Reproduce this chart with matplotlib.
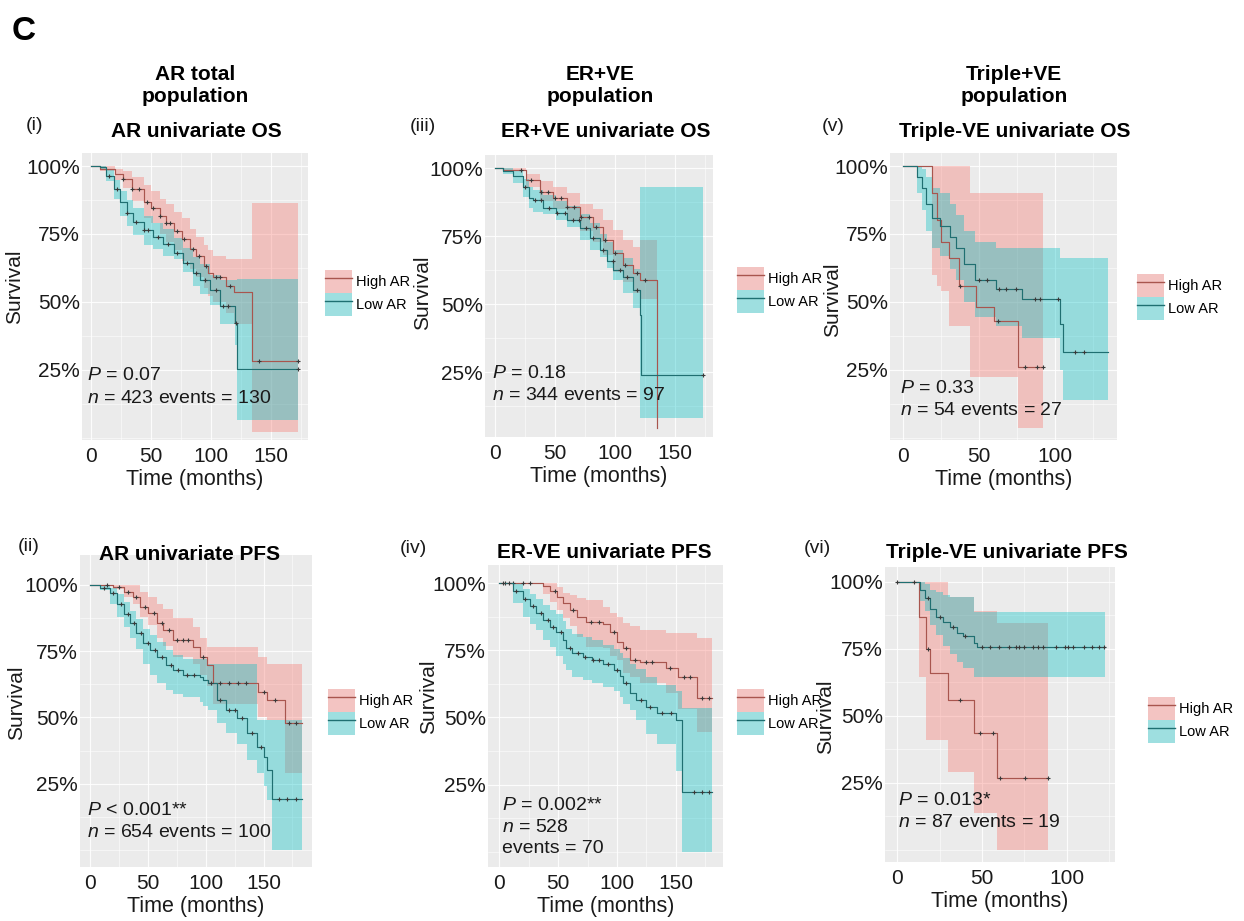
import numpy as np
import matplotlib
matplotlib.use('Agg')
import matplotlib.pyplot as plt
from matplotlib.patches import Patch
from matplotlib.lines import Line2D
from matplotlib.ticker import MultipleLocator

plt.rcParams['font.family'] = ['Liberation Sans', 'DejaVu Sans']
plt.rcParams['mathtext.fontset'] = 'custom'
plt.rcParams['mathtext.it'] = 'Liberation Sans:italic'
plt.rcParams['mathtext.rm'] = 'Liberation Sans'

W, H = 1244, 921

# ---------------- data ----------------
# (i) AR univariate OS
ar_os_high_t = [0, 8, 20, 27, 34, 44, 50, 58, 63, 69, 76, 83, 88, 94, 98, 102, 113, 119, 134.6, 173]
ar_os_high_s = [1.0, 0.99, 0.97, 0.952, 0.915, 0.866, 0.847, 0.816, 0.791, 0.761, 0.73, 0.694, 0.669, 0.632, 0.608, 0.59, 0.559, 0.535, 0.283, 0.283]
ar_os_high_hi = [1.0, 1.0, 0.99, 0.98, 0.96, 0.93, 0.91, 0.88, 0.86, 0.83, 0.81, 0.77, 0.74, 0.71, 0.69, 0.67, 0.658, 0.658, 0.864, 0.864]
ar_os_high_lo = [1.0, 0.98, 0.95, 0.92, 0.87, 0.81, 0.79, 0.75, 0.72, 0.69, 0.65, 0.62, 0.59, 0.55, 0.52, 0.5, 0.46, 0.42, 0.023, 0.023]
ar_os_high_c = [27, 34, 40, 47, 52, 58, 63, 66, 72, 78, 85, 90, 96, 104, 108, 116, 140, 173]
ar_os_low_t = [0, 8, 13, 19, 24, 30, 35.5, 44, 52, 60.5, 69, 77, 85.5, 91, 99, 108, 120, 122, 173]
ar_os_low_s = [1.0, 0.995, 0.964, 0.915, 0.866, 0.829, 0.794, 0.763, 0.739, 0.715, 0.679, 0.642, 0.606, 0.581, 0.545, 0.486, 0.424, 0.253, 0.253]
ar_os_low_hi = [1.0, 1.0, 0.985, 0.95, 0.91, 0.875, 0.845, 0.815, 0.79, 0.77, 0.735, 0.7, 0.665, 0.64, 0.6, 0.58, 0.58, 0.584, 0.584]
ar_os_low_lo = [1.0, 0.99, 0.946, 0.88, 0.817, 0.78, 0.745, 0.71, 0.694, 0.67, 0.658, 0.609, 0.56, 0.53, 0.49, 0.42, 0.34, 0.065, 0.065]
ar_os_low_c = [15, 22, 30, 38, 44, 48, 56, 64, 72, 80, 88, 95, 104, 110, 114, 121, 173]

# (iii) ER+VE univariate OS
er_os_high_t = [0, 7, 26, 37.5, 48.6, 60, 71, 82, 90, 98.6, 107, 115, 121, 134.7, 135]
er_os_high_s = [1.0, 0.995, 0.957, 0.914, 0.89, 0.859, 0.822, 0.785, 0.736, 0.687, 0.644, 0.613, 0.589, 0.043, 0.043]
er_os_high_hi = [1.0, 1.0, 0.98, 0.955, 0.93, 0.908, 0.87, 0.85, 0.81, 0.773, 0.736, 0.71, 0.736, 0.043, 0.043]
er_os_high_lo = [1.0, 0.99, 0.93, 0.88, 0.85, 0.81, 0.77, 0.73, 0.68, 0.62, 0.58, 0.54, 0.52, 0.043, 0.043]
er_os_high_c = [22, 30, 38, 44, 50, 55, 60, 66, 72, 78, 84, 92, 100, 108, 118, 125]
er_os_low_t = [0, 7, 15, 23.6, 28, 32, 40, 51, 60, 71, 79, 87.5, 93, 98.6, 107, 115, 121, 122, 173.6]
er_os_low_s = [1.0, 0.99, 0.97, 0.93, 0.89, 0.883, 0.853, 0.834, 0.81, 0.78, 0.743, 0.7, 0.66, 0.626, 0.6, 0.552, 0.46, 0.239, 0.239]
er_os_low_hi = [1.0, 1.0, 0.99, 0.96, 0.93, 0.92, 0.9, 0.88, 0.86, 0.83, 0.8, 0.76, 0.73, 0.7, 0.67, 0.63, 0.933, 0.933, 0.933]
er_os_low_lo = [1.0, 0.98, 0.945, 0.895, 0.854, 0.84, 0.83, 0.81, 0.785, 0.736, 0.7, 0.675, 0.632, 0.589, 0.54, 0.485, 0.08, 0.08, 0.08]
er_os_low_c = [25, 33, 38, 45, 52, 58, 65, 70, 76, 82, 90, 98, 104, 110, 118, 173]

# (v) Triple-VE univariate OS
tn_os_high_t = [0, 19, 22, 25, 30, 37, 44, 48, 60, 75.8, 92]
tn_os_high_s = [1.0, 0.9, 0.8, 0.72, 0.66, 0.56, 0.56, 0.48, 0.43, 0.26, 0.26]
tn_os_high_hi = [1.0, 1.0, 1.0, 1.0, 1.0, 1.0, 0.9, 0.9, 0.9, 0.9, 0.9]
tn_os_high_lo = [1.0, 0.6, 0.56, 0.54, 0.41, 0.41, 0.225, 0.225, 0.225, 0.035, 0.035]
tn_os_high_c = [37.5, 62.5, 80, 88, 92]
tn_os_low_t = [0, 9, 12, 15, 19, 24, 31, 35, 40, 47, 61, 78, 103, 105, 134.7]
tn_os_low_s = [1.0, 0.96, 0.92, 0.86, 0.81, 0.78, 0.74, 0.7, 0.64, 0.58, 0.546, 0.51, 0.42, 0.317, 0.317]
tn_os_low_hi = [1.0, 1.0, 0.99, 0.96, 0.92, 0.9, 0.86, 0.82, 0.76, 0.72, 0.7, 0.7, 0.66, 0.66, 0.66]
tn_os_low_lo = [1.0, 0.9, 0.84, 0.76, 0.7, 0.67, 0.62, 0.58, 0.5, 0.445, 0.41, 0.366, 0.25, 0.139, 0.139]
tn_os_low_c = [50, 55, 63, 68, 74, 87, 90, 102, 113, 119]

# (ii) AR univariate PFS
ar_pfs_high_t = [0, 8.6, 20, 29, 37.5, 43, 50, 57.6, 63, 72, 89, 95, 101, 106.6, 145.5, 152.7, 168.6, 183]
ar_pfs_high_s = [1.0, 1.0, 0.994, 0.975, 0.956, 0.918, 0.893, 0.855, 0.83, 0.792, 0.767, 0.73, 0.698, 0.629, 0.597, 0.566, 0.478, 0.478]
ar_pfs_high_hi = [1.0, 1.0, 1.0, 1.0, 1.0, 0.975, 0.956, 0.93, 0.91, 0.874, 0.843, 0.8, 0.767, 0.767, 0.73, 0.7, 0.7, 0.7]
ar_pfs_high_lo = [1.0, 1.0, 0.985, 0.955, 0.93, 0.88, 0.85, 0.8, 0.77, 0.73, 0.7, 0.66, 0.62, 0.55, 0.5, 0.49, 0.29, 0.29]
ar_pfs_high_c = [15, 25, 33, 40, 48, 55, 62, 68, 75, 80, 85, 98, 112, 120, 128, 135, 150, 160, 172, 178]
ar_pfs_low_t = [0, 8.6, 17, 23, 29, 34.6, 40, 46, 52, 57.6, 66, 72, 80.7, 95, 98, 102, 109.5, 118, 127, 135.4, 144, 150, 152.7, 157, 183]
ar_pfs_low_s = [1.0, 0.99, 0.968, 0.93, 0.892, 0.855, 0.818, 0.78, 0.755, 0.729, 0.698, 0.679, 0.66, 0.654, 0.641, 0.63, 0.566, 0.528, 0.497, 0.44, 0.39, 0.352, 0.302, 0.191, 0.191]
ar_pfs_low_hi = [1.0, 1.0, 0.99, 0.965, 0.935, 0.9, 0.87, 0.835, 0.81, 0.785, 0.755, 0.735, 0.72, 0.72, 0.72, 0.7, 0.7, 0.7, 0.7, 0.7, 0.49, 0.49, 0.49, 0.49, 0.49]
ar_pfs_low_lo = [1.0, 0.98, 0.93, 0.88, 0.843, 0.8, 0.76, 0.7, 0.66, 0.629, 0.604, 0.59, 0.579, 0.56, 0.545, 0.528, 0.478, 0.44, 0.4, 0.34, 0.29, 0.24, 0.19, 0.0, 0.0]
ar_pfs_low_c = [12, 20, 27, 33, 38, 44, 50, 56, 62, 70, 76, 84, 90, 105, 112, 120, 125, 131, 140, 148, 163, 170, 178]

# (iv) ER-VE univariate PFS
er_pfs_high_t = [0, 37, 43, 49, 54, 60, 66, 74, 88, 94, 100, 105, 111, 119.5, 142, 151.6, 167.7, 181]
er_pfs_high_s = [1.0, 0.988, 0.97, 0.95, 0.925, 0.9, 0.876, 0.857, 0.85, 0.82, 0.783, 0.758, 0.715, 0.708, 0.683, 0.652, 0.571, 0.571]
er_pfs_high_hi = [1.0, 1.0, 1.0, 0.985, 0.963, 0.955, 0.945, 0.938, 0.913, 0.89, 0.876, 0.851, 0.839, 0.826, 0.814, 0.814, 0.795, 0.795]
er_pfs_high_lo = [1.0, 0.96, 0.93, 0.9, 0.87, 0.84, 0.8, 0.764, 0.76, 0.73, 0.714, 0.665, 0.652, 0.627, 0.59, 0.53, 0.447, 0.447]
er_pfs_high_c = [5, 12, 20, 26, 47, 63, 78, 85, 97, 108, 115, 125, 130, 145, 157, 162, 172, 178]
er_pfs_low_t = [0, 12, 20, 26, 31, 37, 43, 48, 54, 57, 62, 71, 79, 88, 97, 102.5, 105, 111, 116, 125, 134, 150, 155, 181]
er_pfs_low_s = [1.0, 0.97, 0.94, 0.914, 0.888, 0.863, 0.838, 0.82, 0.79, 0.76, 0.74, 0.727, 0.714, 0.7, 0.677, 0.653, 0.628, 0.59, 0.565, 0.54, 0.516, 0.49, 0.224, 0.224]
er_pfs_low_hi = [1.0, 1.0, 0.98, 0.96, 0.94, 0.92, 0.9, 0.885, 0.86, 0.83, 0.81, 0.8, 0.79, 0.77, 0.755, 0.74, 0.72, 0.7, 0.68, 0.65, 0.62, 0.6, 0.534, 0.534]
er_pfs_low_lo = [1.0, 0.925, 0.876, 0.85, 0.826, 0.79, 0.764, 0.73, 0.7, 0.677, 0.652, 0.64, 0.627, 0.615, 0.6, 0.578, 0.55, 0.528, 0.49, 0.44, 0.4, 0.3, 0.0, 0.0]
er_pfs_low_c = [3, 8, 14, 22, 29, 35, 41, 46, 52, 60, 67, 73, 80, 85, 92, 100, 108, 120, 128, 138, 146, 165, 172, 178]

# (vi) Triple-VE univariate PFS
tn_pfs_high_t = [0, 12.5, 17, 19.5, 30, 45, 58.7, 89]
tn_pfs_high_s = [1.0, 0.87, 0.75, 0.658, 0.559, 0.435, 0.267, 0.267]
tn_pfs_high_hi = [1.0, 1.0, 1.0, 1.0, 0.944, 0.89, 0.845, 0.845]
tn_pfs_high_lo = [1.0, 0.646, 0.41, 0.41, 0.292, 0.137, 0.0, 0.0]
tn_pfs_high_c = [18, 37, 49, 56.5, 60.5, 75.5, 89]
tn_pfs_low_t = [0, 11.4, 13.4, 16.3, 19.3, 23, 27, 31, 35, 39, 45, 47, 122.6]
tn_pfs_low_s = [1.0, 1.0, 0.97, 0.94, 0.9, 0.87, 0.85, 0.83, 0.81, 0.796, 0.77, 0.758, 0.758]
tn_pfs_low_hi = [1.0, 1.0, 1.0, 0.99, 0.97, 0.96, 0.95, 0.944, 0.944, 0.944, 0.888, 0.888, 0.888]
tn_pfs_low_lo = [1.0, 1.0, 0.93, 0.89, 0.84, 0.8, 0.76, 0.73, 0.7, 0.68, 0.646, 0.646, 0.646]
tn_pfs_low_c = [0, 10, 18, 25, 33, 40, 50, 55, 60, 66, 70, 72, 75, 80, 83, 86, 94, 99, 101, 104, 110, 115, 119, 122]

ytick_vals = [0.25, 0.5, 0.75, 1.0]
ytick_labels = ['25%', '50%', '75%', '100%']

RED = '#F8766D'
TEAL = '#00BFC4'
RED_LINE = '#A8554E'
TEAL_LINE = '#1F6F71'
KEY_RED = '#F3C4C2'
KEY_TEAL = '#9EDFE0'


def px(x, y):
    return x / W, 1 - y / H


def draw_band(ax, t, lo, hi, fill):
    ax.fill_between(t, lo, hi, step='post', color=fill, alpha=0.36, lw=0)


def draw_line(ax, t, s, cens, line):
    ax.step(t, s, where='post', color=line, lw=0.85)
    idx = np.searchsorted(t, cens, side='right') - 1
    ax.plot(cens, np.asarray(s)[idx], ls='none', marker='+', ms=3.5, mew=0.8, color='#3a3a3a')


fig = plt.figure(figsize=(W / 100, H / 100), dpi=100)

panels = [
    dict(rect=(82, 153, 308, 440), xlim=(-7.25, 181), ylim=(-0.008, 1.048), xticks=[0, 50, 100, 150],
         high=(ar_os_high_t, ar_os_high_s, ar_os_high_lo, ar_os_high_hi, ar_os_high_c),
         low=(ar_os_low_t, ar_os_low_s, ar_os_low_lo, ar_os_low_hi, ar_os_low_c),
         ylab=(15, 287), leg=(325, 293),
         notes=[(87, 380, '$P$ = 0.07'), (87, 403, '$n$ = 423 events = 130')]),
    dict(rect=(485, 155, 713, 437), xlim=(-8.3, 181.7), ylim=(0.011, 1.049), xticks=[0, 50, 100, 150],
         high=(er_os_high_t, er_os_high_s, er_os_high_lo, er_os_high_hi, er_os_high_c),
         low=(er_os_low_t, er_os_low_s, er_os_low_lo, er_os_low_hi, er_os_low_c),
         ylab=(423, 293), leg=(737, 290),
         notes=[(492, 378, '$P$ = 0.18'), (492, 400, '$n$ = 344 events = 97')]),
    dict(rect=(890, 153, 1117, 440), xlim=(-8.8, 140.9), ylim=(-0.008, 1.048), xticks=[0, 50, 100],
         high=(tn_os_high_t, tn_os_high_s, tn_os_high_lo, tn_os_high_hi, tn_os_high_c),
         low=(tn_os_low_t, tn_os_low_s, tn_os_low_lo, tn_os_low_hi, tn_os_low_c),
         ylab=(833, 300), leg=(1137, 297),
         notes=[(900, 393, '$P$ = 0.33'), (900, 415, '$n$ = 54 events = 27')]),
    dict(rect=(80, 555, 312, 867), xlim=(-8.6, 191.9), ylim=(-0.064, 1.113), xticks=[0, 50, 100, 150],
         high=(ar_pfs_high_t, ar_pfs_high_s, ar_pfs_high_lo, ar_pfs_high_hi, ar_pfs_high_c),
         low=(ar_pfs_low_t, ar_pfs_low_s, ar_pfs_low_lo, ar_pfs_low_hi, ar_pfs_low_c),
         ylab=(17, 703), leg=(328, 712),
         notes=[(87, 815, '$P$ < 0.001**'), (87, 837, '$n$ = 654 events = 100')]),
    dict(rect=(488, 565, 723, 867), xlim=(-9.6, 190), ylim=(-0.057, 1.068), xticks=[0, 50, 100, 150],
         high=(er_pfs_high_t, er_pfs_high_s, er_pfs_high_lo, er_pfs_high_hi, er_pfs_high_c),
         low=(er_pfs_low_t, er_pfs_low_s, er_pfs_low_lo, er_pfs_low_hi, er_pfs_low_c),
         ylab=(429, 697), leg=(737, 712),
         notes=[(502, 810, '$P$ = 0.002**'), (502, 832, '$n$ = 528'), (502, 853, 'events = 70')]),
    dict(rect=(885, 567, 1115, 862), xlim=(-7.3, 128.6), ylim=(-0.045, 1.055), xticks=[0, 50, 100],
         high=(tn_pfs_high_t, tn_pfs_high_s, tn_pfs_high_lo, tn_pfs_high_hi, tn_pfs_high_c),
         low=(tn_pfs_low_t, tn_pfs_low_s, tn_pfs_low_lo, tn_pfs_low_hi, tn_pfs_low_c),
         ylab=(826, 717), leg=(1148, 720),
         notes=[(898, 805, '$P$ = 0.013*'), (898, 827, '$n$ = 87 events = 19')]),
]

for p in panels:
    x0, y0, x1, y1 = p['rect']
    ax = fig.add_axes([x0 / W, 1 - y1 / H, (x1 - x0) / W, (y1 - y0) / H])
    ax.set_facecolor('#EBEBEB')
    for sp in ax.spines.values():
        sp.set_visible(False)
    ax.set_xlim(p['xlim'])
    ax.set_ylim(p['ylim'])
    ax.set_xticks(p['xticks'])
    ax.set_yticks(ytick_vals)
    ax.set_yticklabels(ytick_labels)
    ax.xaxis.set_minor_locator(MultipleLocator(25))
    ax.yaxis.set_minor_locator(MultipleLocator(0.125))
    ax.grid(which='major', color='white', lw=0.8, alpha=0.9)
    ax.grid(which='minor', color='white', lw=0.4, alpha=0.9)
    ax.set_axisbelow(True)
    ax.tick_params(which='both', length=0, labelsize=15, colors='#1a1a1a')
    ax.tick_params(axis='x', pad=5)
    ax.tick_params(axis='y', pad=1.5)
    ax.set_xlabel('Time (months)', fontsize=15.5, labelpad=2, color='#1a1a1a')

    ht, hs, hlo, hhi, hc = p['high']
    lt, ls_, llo, lhi, lc = p['low']
    draw_band(ax, ht, hlo, hhi, RED)
    draw_band(ax, lt, llo, lhi, TEAL)
    draw_line(ax, ht, hs, hc, RED_LINE)
    draw_line(ax, lt, ls_, lc, TEAL_LINE)

    for nx, ny, txt in p['notes']:
        fig.text(*px(nx, ny), txt, fontsize=14, va='baseline', ha='left', color='#1a1a1a')

    fig.text(*px(*p['ylab']), 'Survival', fontsize=15, rotation=90, ha='center', va='center', color='#1a1a1a')

    handles = [(Patch(facecolor=KEY_RED, lw=0), Line2D([], [], color=RED_LINE, lw=1)),
               (Patch(facecolor=KEY_TEAL, lw=0), Line2D([], [], color=TEAL_LINE, lw=1))]
    ax.legend(handles, ['High AR', 'Low AR'], loc='center left', bbox_to_anchor=px(*p['leg']),
              bbox_transform=fig.transFigure, frameon=False, fontsize=10.5, handlelength=1.85,
              handleheight=2.0, labelspacing=0, handletextpad=0.25, borderpad=0, borderaxespad=0)

# headings
fig.text(*px(12, 40), 'C', fontsize=24, fontweight='bold', va='baseline')
for cx, head in [(195, 'AR total'), (600, 'ER+VE'), (1014, 'Triple+VE')]:
    fig.text(*px(cx, 80), head, fontsize=15, fontweight='bold', ha='center', va='baseline')
    fig.text(*px(cx, 102), 'population', fontsize=15, fontweight='bold', ha='center', va='baseline')

titles = [(196, 137, 'AR univariate OS'), (606, 137, 'ER+VE univariate OS'), (1015, 137, 'Triple-VE univariate OS'),
          (190, 560, 'AR univariate PFS'), (604, 558, 'ER-VE univariate PFS'), (1007, 558, 'Triple-VE univariate PFS')]
for tx, ty, txt in titles:
    fig.text(*px(tx, ty), txt, fontsize=15, fontweight='bold', ha='center', va='baseline')

romans = [(26, 130, '(i)'), (410, 131, '(iii)'), (822, 131, '(v)'),
          (18, 551, '(ii)'), (400, 553, '(iv)'), (804, 553, '(vi)')]
for rx, ry, txt in romans:
    fig.text(*px(rx, ry), txt, fontsize=14, ha='left', va='baseline', color='#1a1a1a')

fig.savefig('out.png', dpi=100, facecolor='white')
